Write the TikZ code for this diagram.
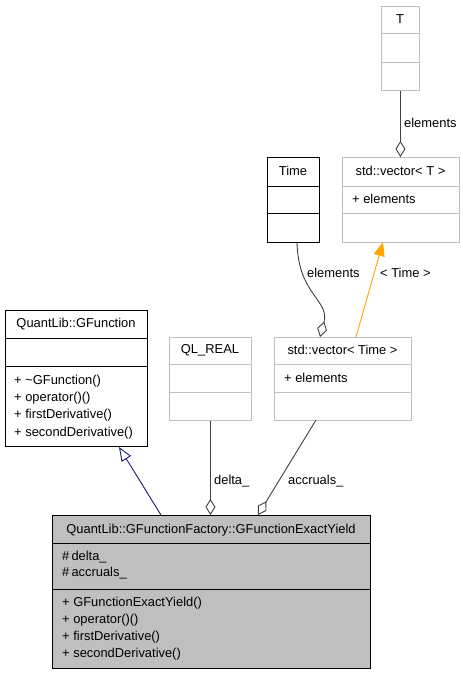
\documentclass[tikz,border=0pt]{standalone}
\usepackage{fontspec}
\setmainfont{Liberation Sans}
\usetikzlibrary{arrows.meta}
\definecolor{lgray}{HTML}{BFBFBF}
\definecolor{egray}{HTML}{404040}
\definecolor{navyedge}{HTML}{191970}
\definecolor{orng}{HTML}{FFA500}
\begin{document}
\begin{tikzpicture}[x=1pt,y=-1pt,
  font=\fontsize{12.9}{15}\selectfont,
  cbox/.style={draw=black, line width=0.9pt, inner sep=0pt, anchor=north west},
  gbox/.style={draw=lgray, line width=0.9pt, inner sep=0pt, anchor=north west},
  fbox/.style={draw=black, fill=lgray, line width=0.9pt, inner sep=0pt, anchor=north west},
  title/.style={inner sep=0pt, anchor=center},
  mem/.style={inner sep=0pt, anchor=west},
  lbl/.style={inner sep=0pt, anchor=west},
  agg/.style={draw=egray, line width=0.9pt, -{Diamond[open, length=16pt, width=10pt, line width=0.9pt]}},
  inh/.style={draw=navyedge, line width=0.9pt, -{Triangle[open, length=14pt, width=11pt, line width=0.9pt]}},
  tmpl/.style={draw=orng, line width=0.9pt, -{Triangle[length=14pt, width=11pt]}}
]
\useasboundingbox (0,0) rectangle (463,675);

% T
\node[gbox, minimum width=38pt, minimum height=84pt] (tb) at (381,6) {};
\draw[lgray, line width=0.9pt] (381,33) -- (419,33) (381,62) -- (419,62);
\node[title] (tbt) at (400,19) {T};

% std::vector< T >
\node[gbox, minimum width=117pt, minimum height=85pt] (vt) at (342,157) {};
\draw[lgray, line width=0.9pt] (342,186) -- (459,186) (342,213) -- (459,213);
\node[title] (vtt) at (400.5,171) {std::vector< T >};
\node[mem] (vtm) at (352,199) {+ elements};

% Time
\node[cbox, minimum width=52pt, minimum height=85pt] (time) at (267,157) {};
\draw[black, line width=0.9pt] (267,186) -- (319,186) (267,213) -- (319,213);
\node[title] (timet) at (293,171) {Time};

% GFunction
\node[cbox, minimum width=142pt, minimum height=136pt] (gf) at (5,310) {};
\draw[black, line width=0.9pt] (5,338) -- (147,338) (5,366) -- (147,366);
\node[title] (gft) at (76,324) {QuantLib::GFunction};
\node[mem] (gf1) at (14,381) {+ \textasciitilde GFunction()};
\node[mem] (gf2) at (14,398) {+ operator()()};
\node[mem] (gf3) at (14,415) {+ firstDerivative()};
\node[mem] (gf4) at (14,433) {+ secondDerivative()};

% QL_REAL
\node[gbox, minimum width=82pt, minimum height=83pt] (ql) at (169,337) {};
\draw[lgray, line width=0.9pt] (169,364) -- (251,364) (169,392) -- (251,392);
\node[title] (qlt) at (210,350) {QL\_REAL};

% std::vector< Time >
\node[gbox, minimum width=137pt, minimum height=83pt] (vtime) at (274,337) {};
\draw[lgray, line width=0.9pt] (274,364) -- (411,364) (274,392) -- (411,392);
\node[title] (vtimet) at (342.5,350) {std::vector< Time >};
\node[mem] (vtimem) at (284,378) {+ elements};

% GFunctionExactYield
\node[fbox, minimum width=318pt, minimum height=153pt] (ey) at (52,515) {};
\draw[black, line width=0.9pt] (52,543) -- (370,543) (52,589) -- (370,589);
\node[title] (eyt) at (211,530) {QuantLib::GFunctionFactory::GFunctionExactYield};
\node[mem] (ey1) at (62,557) {\#\,delta\_};
\node[mem] (ey2) at (62,573) {\#\,accruals\_};
\node[mem] (ey3) at (62,603) {+ GFunctionExactYield()};
\node[mem] (ey4) at (62,620) {+ operator()()};
\node[mem] (ey5) at (62,637) {+ firstDerivative()};
\node[mem] (ey6) at (62,654) {+ secondDerivative()};

% connectors
\draw[agg] (tb.south) -- (tb.south |- vt.north);
\node[lbl] at (404,123) {elements};

\coordinate (tc1) at (297,242);
\coordinate (tc2) at (320,337);
\draw[agg] (tc1) .. controls (298,295) and (330,300) .. (tc2);
\node[lbl] at (307,273) {elements};

\coordinate (o1) at (356,337);
\coordinate (o2) at (383,242);
\draw[tmpl] (o1) -- (o2);
\node[lbl] at (380,273) {< Time >};

\draw[agg] (ql.south) -- (ql.south |- ey.north);
\node[lbl] at (214,481) {delta\_};

\coordinate (a1) at (316,420);
\coordinate (a2) at (258,515);
\draw[agg] (a1) -- (a2);
\node[lbl] at (288,481) {accruals\_};

\coordinate (i1) at (161,515);
\coordinate (i2) at (119,447);
\draw[inh] (i1) -- (i2);
\end{tikzpicture}
\end{document}
